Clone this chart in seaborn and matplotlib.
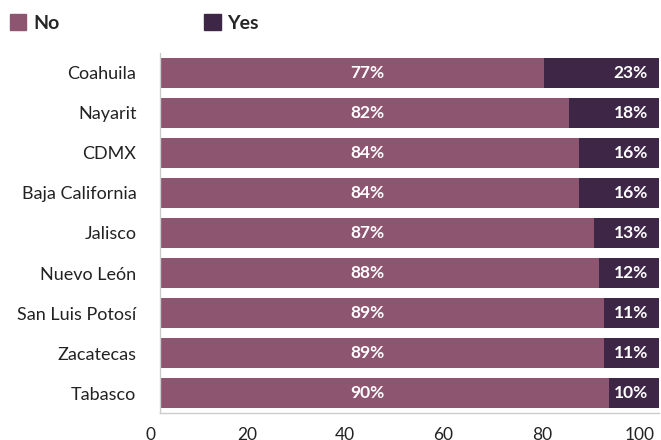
import pandas as pd
import numpy as np
import matplotlib.pyplot as plt
import seaborn as sns
from matplotlib.patches import Patch
from matplotlib.transforms import ScaledTranslation

# Data
states = ['Coahuila', 'Nayarit', 'CDMX', 'Baja California', 'Jalisco',
          'Nuevo León', 'San Luis Potosí', 'Zacatecas', 'Tabasco']
no_pct = [77, 82, 84, 84, 87, 88, 89, 89, 90]
yes_pct = [23, 18, 16, 16, 13, 12, 11, 11, 10]
tick_values = [0, 20, 40, 60, 80, 100]

no_color = '#8E5570'
yes_color = '#3E2746'

df = pd.DataFrame({'state': states, 'No': no_pct, 'Yes': yes_pct})
df['total'] = df['No'] + df['Yes']

sns.set_theme(style='white')
plt.rcParams['font.family'] = ['Lato', 'DejaVu Sans']

fig = plt.figure(figsize=(6.61, 4.4), dpi=100)
ax = fig.add_axes([160 / 661, 1 - 413 / 440, 499 / 661, 360 / 440])

# stacked bars: total in "Yes" colour, "No" drawn on top
sns.barplot(data=df, y='state', x='total', color=yes_color, width=0.75,
            saturation=1, linewidth=0, ax=ax, orient='h')
sns.barplot(data=df, y='state', x='No', color=no_color, width=0.75,
            saturation=1, linewidth=0, ax=ax, orient='h')

for i, row in df.iterrows():
    ax.text(41.5, i, f"{row['No']}%", ha='center', va='center',
            color='white', fontweight='bold', fontsize=12.5)
    ax.text(97.8, i, f"{row['Yes']}%", ha='right', va='center',
            color='white', fontweight='bold', fontsize=12.5)

ax.set_xlim(0, 100)
ax.set_xlabel('')
ax.set_ylabel('')

# tick marks sit on a slightly tighter grid than the bars, labels a bit left of them
ax.set_xticks([v * 0.985 for v in tick_values], minor=True)
ax.set_xticks(tick_values)
ax.set_xticklabels([str(v) for v in tick_values])
ax.tick_params(axis='x', which='major', length=0, pad=10,
               labelsize=12.5, labelcolor='#222222')
ax.tick_params(axis='x', which='minor', length=3.6, width=1, color='#cccccc',
               direction='out')
for lab, dx in zip(ax.get_xticklabels(), [-10, -13, -15, -16, -17, -19]):
    lab.set_transform(lab.get_transform() + ScaledTranslation(dx / 100, 0, fig.dpi_scale_trans))

ax.tick_params(axis='y', length=0, pad=17, labelsize=13, labelcolor='#222222')

for side in ['top', 'right']:
    ax.spines[side].set_visible(False)
for side in ['left', 'bottom']:
    ax.spines[side].set_color('#cccccc')
    ax.spines[side].set_linewidth(1)

handles = [Patch(color=no_color, label='No'), Patch(color=yes_color, label='Yes')]
fig.legend(handles=handles, loc='upper left', bbox_to_anchor=(0.0, 0.99),
           ncol=2, frameon=False, handlelength=0.85, handleheight=0.85,
           handletextpad=0.35, columnspacing=7.45, borderaxespad=0.1,
           prop={'weight': 'bold', 'size': 14})

fig.savefig('out.png', dpi=100)
